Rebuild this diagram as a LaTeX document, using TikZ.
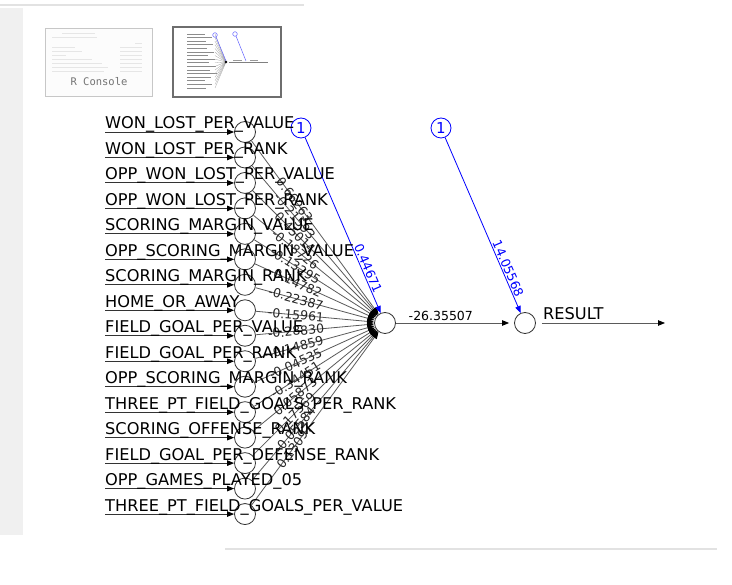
\documentclass[tikz,border=0pt]{standalone}
\usepackage{fontspec}
\setmainfont{DejaVu Sans}
\setmonofont{DejaVu Sans Mono}
\usetikzlibrary{arrows.meta}
\definecolor{edgegray}{HTML}{5A5A5A}
\definecolor{entrygray}{HTML}{333333}
\definecolor{panelgray}{HTML}{F0F0F0}
\definecolor{rulegray}{HTML}{E2E2E2}
\definecolor{thumbline}{HTML}{E6E6E6}
\definecolor{thumbdark}{HTML}{6E6E6E}
\begin{document}
\begin{tikzpicture}[x=1pt,y=-1pt,
  inp/.style={circle,draw=entrygray,fill=white,line width=0.8pt,minimum size=21pt,inner sep=0pt},
  bias/.style={circle,draw=blue,fill=white,line width=0.8pt,minimum size=20pt,inner sep=0pt,text=blue,font=\fontsize{15}{17}\selectfont},
  lab/.style={inner sep=0pt,font=\fontsize{16.2}{19}\selectfont},
  wlab/.style={sloped,inner sep=0.5pt,font=\fontsize{12.5}{14}\selectfont,text=black!85},
  blab/.style={sloped,above,inner sep=1pt,font=\fontsize{12.5}{14}\selectfont,text=blue},
  syn/.style={draw=edgegray,line width=0.8pt,-{Triangle[length=7pt,width=5.5pt,color=black]}},
  entry/.style={draw=entrygray,line width=0.9pt,-{Triangle[length=7pt,width=5.5pt,color=black]}},
  bsyn/.style={draw=blue,line width=0.8pt,-{Triangle[length=7pt,width=5.5pt,color=blue]}},
  tline/.style={draw=thumbline,line width=0.9pt},
]
\useasboundingbox (0,0) rectangle (732,585);
% window background
\fill[white] (0,0) rectangle (732,585);
\fill[panelgray] (0,8) rectangle (23,535);
\draw[rulegray,line width=2pt] (0,5) -- (304,5);
\draw[rulegray,line width=1.2pt] (225,549) -- (717,549);
% thumbnail 1: R Console
\draw[draw=black!22,fill=black!1,line width=0.8pt] (45,28) rectangle (152,96);
\foreach \yy/\xa/\xb in {33/62/95,37/52/97,43/135/142,47/52/75,47/120/142,51/52/82,51/120/142,55/52/66,55/120/142,59/52/92,59/120/142,63/52/102,63/120/142,67/52/108,67/120/142,71/52/104,71/120/142}{
  \draw[tline] (\xa,\yy) -- (\xb,\yy);
}
\node[font=\ttfamily\fontsize{10.5}{12}\selectfont,text=black!55,inner sep=0pt] (rc) at (99,82) {R Console};
% thumbnail 2: plot preview
\draw[draw=thumbdark,fill=white,line width=2pt] (173,27) rectangle (281,97);
\foreach \k in {0,...,15}{
  \draw[black!45,line width=0.6pt] (187,{34+3.6*\k}) -- ({205+mod(\k*7,13)},{34+3.6*\k});
  \draw[black!35,line width=0.3pt] (215,{34+3.6*\k}) -- (226,62);
}
\draw[blue!60,line width=0.5pt] (215,35) circle (2.3);
\draw[blue!60,line width=0.5pt] (235,34) circle (2.3);
\draw[blue!60,line width=0.5pt] (216,37) -- (226,61);
\draw[blue!60,line width=0.5pt] (236,36) -- (246,61);
\fill[black] (226,62) circle (1.3);
\draw[black!50,line width=0.5pt] (229,62) -- (268,62);
\draw[black!40,line width=0.6pt] (233,60) -- (242,60);
\draw[black!40,line width=0.6pt] (250,60) -- (258,60);
% network nodes
\node[inp] (h) at (385,323) {};
\node[inp] (o) at (525,323) {};
\node[bias] (b1) at (301,128) {1};
\node[bias] (b2) at (441,128) {1};
\foreach \i/\w in {0/0.66263,1/-0.21593,2/0.45014,3/-0.18726,4/-0.13295,5/-0.14782,6/-0.22387,7/-0.15961,8/-0.28830,9/-0.14859,10/-0.04535,11/-0.34451,12/0.05873,13/0.17569,14/-0.05584,15/0.13097}{
  \pgfmathsetmacro\cy{132+25.47*\i}
  \node[inp] (in\i) at (245,\cy) {};
  \coordinate (st\i) at (105,\cy);
  \draw[syn] (in\i) -- node[wlab,pos=0.34] {\w} (h);
}
% bias connections
\draw[bsyn] (b1) -- node[blab,pos=0.76] {0.44671} (h);
\draw[bsyn] (b2) -- node[blab,pos=0.76] {14.05568} (o);
% hidden to output
\draw[syn,shorten >=5pt] (h) -- node[above,pos=0.38,inner sep=1.5pt,font=\fontsize{12.5}{14}\selectfont] {-26.35507} (o);
\coordinate (res) at (665,323);
\draw[syn] ([xshift=6pt]o.east) -- (res);
\node[lab,anchor=base west] (reslab) at (543,320) {RESULT};
% input entries and labels
\foreach \i/\name in {0/WON\_LOST\_PER\_VALUE,1/WON\_LOST\_PER\_RANK,2/OPP\_WON\_LOST\_PER\_VALUE,3/OPP\_WON\_LOST\_PER\_RANK,4/SCORING\_MARGIN\_VALUE,5/OPP\_SCORING\_MARGIN\_VALUE,6/SCORING\_MARGIN\_RANK,7/HOME\_OR\_AWAY,8/FIELD\_GOAL\_PER\_VALUE,9/FIELD\_GOAL\_PER\_RANK,10/OPP\_SCORING\_MARGIN\_RANK,11/THREE\_PT\_FIELD\_GOALS\_PER\_RANK,12/SCORING\_OFFENSE\_RANK,13/FIELD\_GOAL\_PER\_DEFENSE\_RANK,14/OPP\_GAMES\_PLAYED\_05,15/THREE\_PT\_FIELD\_GOALS\_PER\_VALUE}{
  \pgfmathsetmacro\cy{132+25.47*\i}
  \draw[entry] (st\i) -- (in\i);
  \node[lab,anchor=base west] (lab\i) at (105,\cy-3) {\name};
}
\end{tikzpicture}
\end{document}
